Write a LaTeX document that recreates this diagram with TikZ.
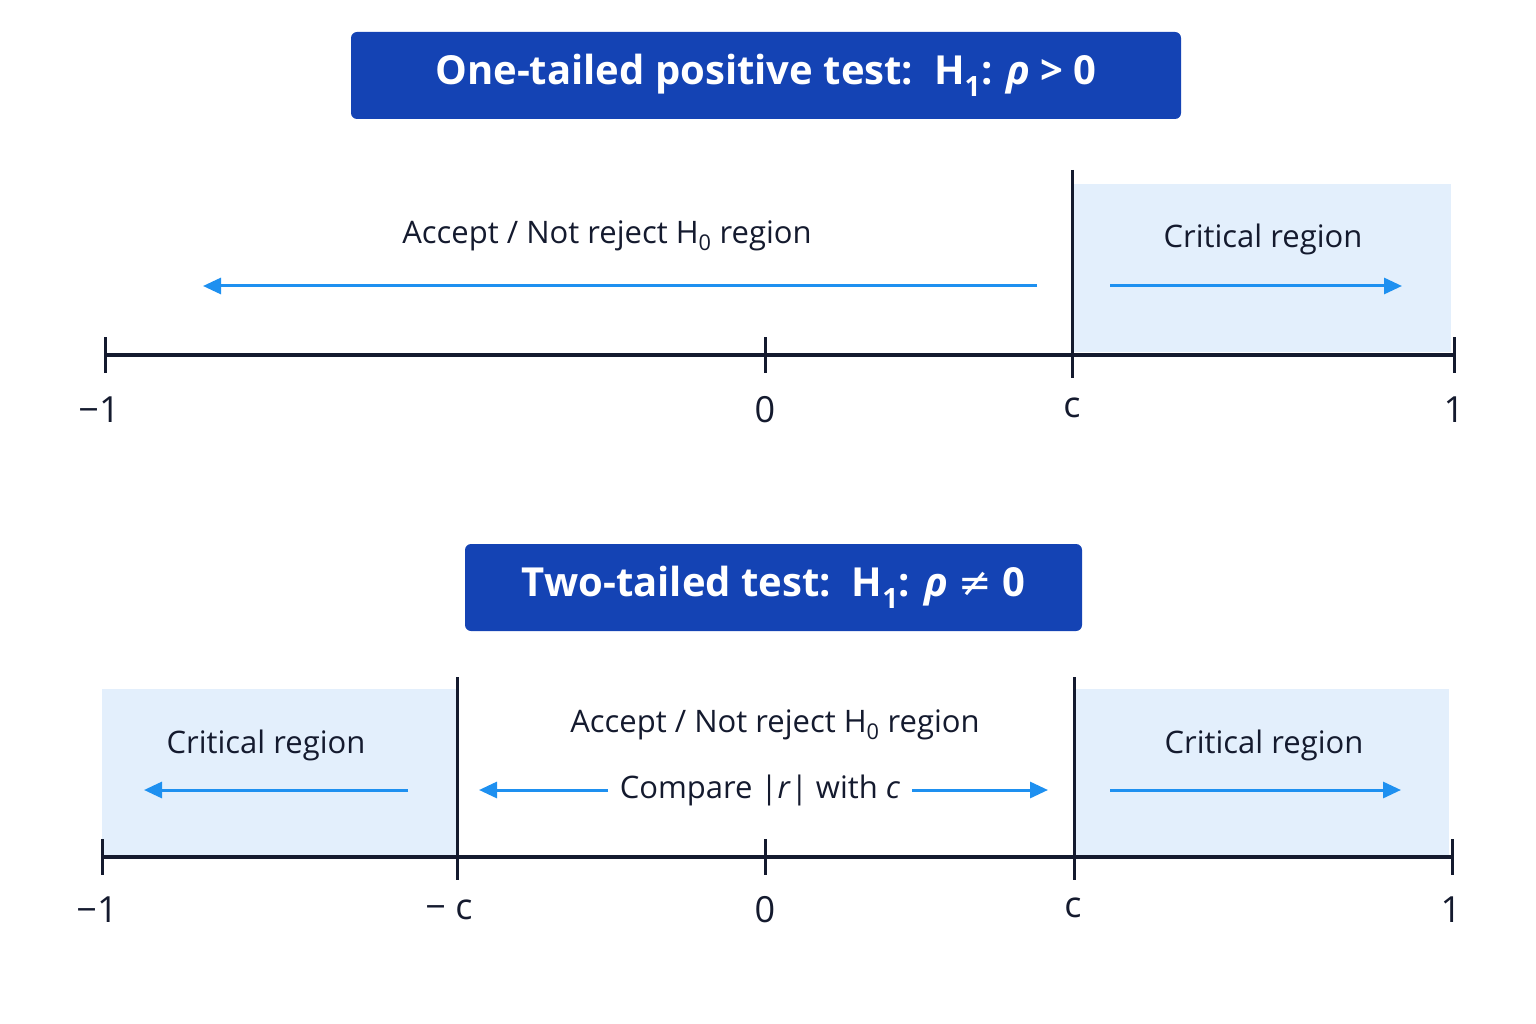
\documentclass[tikz,border=0pt]{standalone}
\usepackage{fontspec}
\setmainfont{Open Sans}
\newfontfamily\dv{DejaVu Sans}
\usetikzlibrary{arrows.meta}
\definecolor{tbox}{HTML}{1443B4}
\definecolor{shade}{HTML}{E3EFFC}
\definecolor{arr}{HTML}{1E90F0}
\definecolor{ink}{HTML}{141A2E}
\begin{document}
\begin{tikzpicture}[x=1pt,y=-1pt,
  title/.style={fill=tbox,text=white,rounded corners=6pt,font=\fontsize{40}{44}\selectfont\bfseries,inner sep=0pt,anchor=center},
  axis/.style={draw=ink,line width=3.5pt},
  tick/.style={draw=ink,line width=3pt},
  lab/.style={font=\fontsize{36}{40}\selectfont,text=ink},
  txt/.style={font=\fontsize{31}{36}\selectfont,text=ink},
  blue/.style={draw=arr,line width=3pt,-{Triangle[length=18pt,width=16pt]}},
  region/.style={fill=shade,draw=none}]
\useasboundingbox (0,0) rectangle (1536,1024);
% ---- top
\node[title,minimum width=830pt,minimum height=87pt] (t1) at (766,75.5) {One-tailed positive test:\ \ H\textsubscript{1}: \textit{ρ} > 0};
\fill[region] (1072,184) rectangle (1451,352);
\coordinate (a1l) at (105,355); \coordinate (a1r) at (1454,355);
\draw[axis] (a1l) -- (a1r);
\coordinate (c1t) at (1072,170); \coordinate (c1b) at (1072,378);
\draw[tick] (c1t) -- (c1b);
\foreach \x/\n in {105/m,765/z,1454/p}{\draw[tick] (\x,337) -- (\x,373);}
\node[lab] (l1m) at (99,410) {−1};
\node[lab] (l1z) at (765,410) {0};
\node[lab] (l1c) at (1072,408) {c};
\node[lab] (l1p) at (1454,410) {1};
\node[txt] (acc1) at (607,236) {Accept / Not reject H\textsubscript{0} region};
\coordinate (a1s) at (1037,286); \coordinate (a1e) at (203,286);
\draw[blue] (a1s) -- (a1e);
\node[txt] (cr1) at (1263,239) {Critical region};
\coordinate (b1s) at (1110,286); \coordinate (b1e) at (1402,286);
\draw[blue] (b1s) -- (b1e);
% ---- bottom
\node[title,minimum width=617pt,minimum height=87pt] (t2) at (773.5,587.5) {Two-tailed test:\ \ H\textsubscript{1}: \textit{ρ} {\dv\mdseries≠} 0};
\fill[region] (102,689) rectangle (457,855);
\fill[region] (1074,689) rectangle (1449,855);
\coordinate (a2l) at (102,857); \coordinate (a2r) at (1452,857);
\draw[axis] (a2l) -- (a2r);
\draw[tick] (457,677) -- (457,880);
\draw[tick] (1074,677) -- (1074,880);
\foreach \x in {102,765,1452}{\draw[tick] (\x,839) -- (\x,875);}
\node[lab] (l2m) at (97,910) {−1};
\node[lab] (l2mc) at (449,910) {− c};
\node[lab] (l2z) at (765,910) {0};
\node[lab] (l2c) at (1073,908) {c};
\node[lab] (l2p) at (1451,910) {1};
\node[txt] (cr2) at (266,745) {Critical region};
\coordinate (c2s) at (408,790); \coordinate (c2e) at (144,790);
\draw[blue] (c2s) -- (c2e);
\node[txt] (acc2) at (775,725) {Accept / Not reject H\textsubscript{0} region};
\node[txt] (cmp) at (760,790) {Compare |\textit{r}| with \textit{c}};
\coordinate (d1s) at (608,790); \coordinate (d1e) at (479,790);
\draw[blue] (d1s) -- (d1e);
\coordinate (d2s) at (912,790); \coordinate (d2e) at (1048,790);
\draw[blue] (d2s) -- (d2e);
\node[txt] (cr3) at (1264,745) {Critical region};
\coordinate (e1s) at (1110,790); \coordinate (e1e) at (1401,790);
\draw[blue] (e1s) -- (e1e);
\end{tikzpicture}
\end{document}
